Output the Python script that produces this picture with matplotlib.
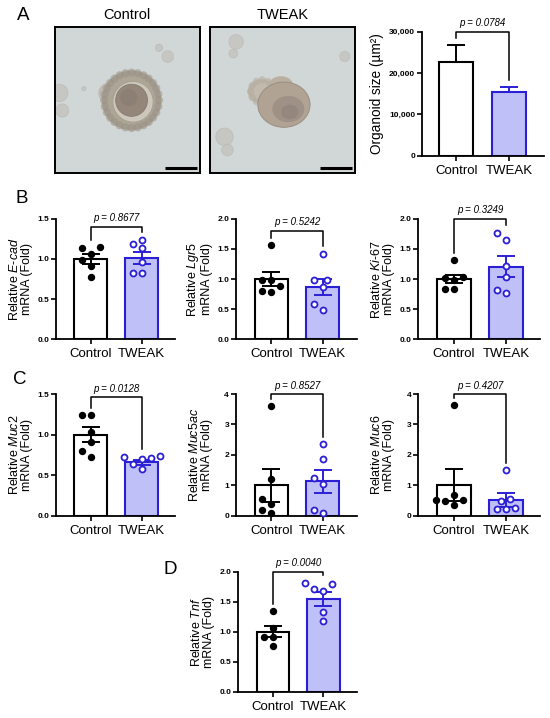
import numpy as np
import matplotlib
matplotlib.use('Agg')
import matplotlib.pyplot as plt
from matplotlib.patches import Circle, Ellipse

plt.rcParams['font.family'] = ['Liberation Sans', 'DejaVu Sans']
plt.rcParams['mathtext.fontset'] = 'custom'
plt.rcParams['mathtext.rm'] = 'Liberation Sans'
plt.rcParams['mathtext.it'] = 'Liberation Sans:italic'
plt.rcParams['mathtext.bf'] = 'Liberation Sans:bold'

groups = ['Control', 'TWEAK']

# A: organoid size (mean, SEM)
size_mean = [22740, 15340]
size_sem = [4040, 1210]
size_p = '0.0784'

# B
ecad_ctrl = [1.15, 1.14, 1.06, 0.99, 0.91, 0.78]
ecad_tweak = [1.24, 1.18, 1.13, 0.96, 0.83, 0.83]
ecad_mean = [1.00, 1.01]
ecad_sem = [0.06, 0.075]

lgr5_ctrl = [1.56, 0.99, 0.98, 0.88, 0.80, 0.79]
lgr5_tweak = [1.42, 0.99, 0.98, 0.86, 0.59, 0.49]
lgr5_mean = [1.00, 0.87]
lgr5_sem = [0.11, 0.13]

ki67_ctrl = [1.31, 1.03, 1.02, 0.99, 0.84, 0.83]
ki67_tweak = [1.77, 1.65, 1.21, 1.03, 0.81, 0.77]
ki67_mean = [1.00, 1.20]
ki67_sem = [0.06, 0.175]

# C
muc2_ctrl = [1.24, 1.24, 1.03, 0.91, 0.80, 0.72]
muc2_tweak = [0.73, 0.72, 0.71, 0.70, 0.63, 0.57]
muc2_mean = [1.00, 0.655]
muc2_sem = [0.095, 0.03]

muc5ac_ctrl = [3.60, 1.20, 0.53, 0.39, 0.17, 0.09]
muc5ac_tweak = [2.35, 1.85, 1.23, 1.05, 0.19, 0.08]
muc5ac_mean = [0.99, 1.12]
muc5ac_sem = [0.54, 0.37]

muc6_ctrl = [3.64, 0.67, 0.50, 0.50, 0.49, 0.34]
muc6_tweak = [1.50, 0.55, 0.47, 0.25, 0.22, 0.21]
muc6_mean = [1.00, 0.50]
muc6_sem = [0.53, 0.23]

# D
tnf_ctrl = [1.34, 1.07, 0.92, 0.92, 0.76]
tnf_tweak = [1.82, 1.80, 1.72, 1.68, 1.33, 1.18]
tnf_mean = [1.00, 1.55]
tnf_sem = [0.09, 0.115]

BLUE = '#2b1fd6'
LAV = '#c0c0f8'
W, H = 550, 718

fig = plt.figure(figsize=(W / 100, H / 100), dpi=100)


def px_axes(l, t, r, b):
    return fig.add_axes([l / W, 1 - b / H, (r - l) / W, (b - t) / H])


def swarm(vals, ypx, xpx, d=9.0):
    # simple beeswarm in pixel space
    placed = []
    offs = [0.0] * len(vals)
    cands = sorted([k * d / 2 for k in range(-12, 13)], key=lambda c: (abs(c), c))
    for i in sorted(range(len(vals)), key=lambda i: vals[i]):
        y = vals[i] * ypx
        for c in cands:
            if all((c - px) ** 2 + (y - py) ** 2 >= d * d * 0.95 for px, py in placed):
                placed.append((c, y))
                offs[i] = c / xpx
                break
    return offs


def gene_label(g):
    parts = ['$\\mathit{%s}$' % s for s in g.split('-')]
    return 'Relative ' + '-'.join(parts) + '\nmRNA (Fold)'


def bar_panel(ax, mean, sem, ymax, ticks, fmt, bracket_y, p,
              ctrl=None, tweak=None, upper_only=False, xlim=(-0.69, 1.66)):
    ax.set_xlim(*xlim)
    ax.set_ylim(0, ymax)
    fills = ['white', LAV]
    edges = ['black', BLUE]
    ax.bar([0, 1], mean, width=0.65, color=fills, edgecolor=edges,
           linewidth=1.5, zorder=2)
    bb = ax.get_position()
    ypx = bb.height * H / ymax
    xpx = bb.width * W / (xlim[1] - xlim[0])
    tops = []
    for i in range(2):
        lo = 0 if upper_only else sem[i]
        ax.errorbar(i, mean[i], yerr=[[lo], [sem[i]]], color=edges[i],
                    capsize=6.5, elinewidth=1.4, capthick=1.4, zorder=3)
        tops.append(mean[i] + sem[i])
    if ctrl is not None:
        xo = swarm(ctrl, ypx, xpx)
        ax.plot(np.array(xo), ctrl, 'o', ms=4.3, color='black', zorder=4,
                clip_on=False)
        xo = swarm(tweak, ypx, xpx)
        ax.plot(1 + np.array(xo), tweak, 'o', ms=4.3, mfc='white', mec=BLUE,
                mew=1.3, zorder=4, clip_on=False)
        tops = [max(tops[0], max(ctrl)), max(tops[1], max(tweak))]
    gap = 0.06 * ymax
    ax.plot([0, 0, 1, 1], [tops[0] + gap, bracket_y, bracket_y, tops[1] + gap],
            color='black', lw=1.1, clip_on=False, zorder=5)
    ax.annotate('p = ' + p, (0.5, bracket_y), xytext=(0, 2.5),
                textcoords='offset points', ha='center', va='bottom',
                style='italic', fontsize=7)
    for s in ['top', 'right']:
        ax.spines[s].set_visible(False)
    for s in ['left', 'bottom']:
        ax.spines[s].set_linewidth(1.3)
    ax.set_yticks(ticks, labels=[fmt(t) for t in ticks], fontweight='bold',
                  fontsize=6)
    ax.set_xticks([0, 1], labels=groups, fontsize=9.5)
    ax.tick_params(axis='y', length=3.5, width=1.2, pad=1.5)
    ax.tick_params(axis='x', length=3.5, width=1.2, pad=3)
    return ax


f1 = lambda t: '%.1f' % t
f0 = lambda t: '%d' % t
fc = lambda t: '{:,}'.format(int(t))


# ---- A: brightfield images (drawn as simple shapes) ----
def cell_rim(ax, cx, cy, r, n, size, color):
    for a in np.linspace(0, 2 * np.pi, n, endpoint=False):
        ax.add_patch(Circle((cx + r * np.cos(a), cy + r * np.sin(a)), size,
                            fc=color, ec='none', alpha=0.55))


def organoid_image(ax, kind):
    ax.set_xlim(0, 1)
    ax.set_ylim(0, 1)
    ax.set_xticks([])
    ax.set_yticks([])
    ax.set_facecolor((0.82, 0.84, 0.84))
    for s in ax.spines.values():
        s.set_linewidth(1.4)
    faint = (0.77, 0.77, 0.75)
    if kind == 'ctrl':
        for (cx, cy, r) in [(0.78, 0.80, 0.04), (0.72, 0.86, 0.025),
                            (0.03, 0.55, 0.06), (0.05, 0.43, 0.045),
                            (0.20, 0.58, 0.015)]:
            ax.add_patch(Circle((cx, cy), r, fc=faint, ec=(0.72, 0.72, 0.70),
                                lw=0.5, alpha=0.8))
        ax.add_patch(Circle((0.37, 0.55), 0.07, fc=(0.73, 0.71, 0.67),
                            ec='none', alpha=0.8))
        ax.add_patch(Circle((0.53, 0.50), 0.205, fc=(0.68, 0.65, 0.59),
                            ec='none'))
        cell_rim(ax, 0.53, 0.50, 0.19, 28, 0.028, (0.60, 0.57, 0.52))
        ax.add_patch(Circle((0.54, 0.49), 0.14, fc=(0.80, 0.78, 0.73),
                            ec=(0.66, 0.63, 0.58), lw=0.8))
        ax.add_patch(Circle((0.53, 0.50), 0.11, fc=(0.58, 0.53, 0.48),
                            ec=(0.52, 0.48, 0.44), lw=0.6))
        ax.add_patch(Circle((0.51, 0.52), 0.06, fc=(0.55, 0.50, 0.46),
                            ec='none'))
    else:
        for (cx, cy, r) in [(0.18, 0.90, 0.05), (0.16, 0.82, 0.03),
                            (0.93, 0.80, 0.035), (0.10, 0.25, 0.06),
                            (0.12, 0.16, 0.04)]:
            ax.add_patch(Circle((cx, cy), r, fc=faint, ec=(0.72, 0.72, 0.70),
                                lw=0.5, alpha=0.8))
        ax.add_patch(Ellipse((0.36, 0.56), 0.20, 0.17, fc=(0.76, 0.73, 0.68),
                             ec='none'))
        cell_rim(ax, 0.36, 0.56, 0.08, 12, 0.025, (0.70, 0.67, 0.62))
        ax.add_patch(Ellipse((0.49, 0.61), 0.16, 0.11, fc=(0.73, 0.69, 0.63),
                             ec='none'))
        ax.add_patch(Ellipse((0.51, 0.47), 0.36, 0.31, fc=(0.69, 0.64, 0.58),
                             ec=(0.60, 0.56, 0.51), lw=0.7))
        ax.add_patch(Ellipse((0.54, 0.44), 0.22, 0.18, fc=(0.62, 0.57, 0.52),
                             ec='none'))
        ax.add_patch(Ellipse((0.55, 0.42), 0.12, 0.10, fc=(0.58, 0.53, 0.49),
                             ec='none'))
    ax.plot([0.76, 0.98], [0.035, 0.035], color='black', lw=2.2,
            solid_capstyle='butt')


ax_i1 = px_axes(55, 27.3, 199.5, 173.3)
organoid_image(ax_i1, 'ctrl')
ax_i2 = px_axes(210, 27.3, 355, 173.3)
organoid_image(ax_i2, 'tweak')
fig.text(127 / W, 1 - 15 / H, 'Control', ha='center', va='center', fontsize=10.5)
fig.text(282.5 / W, 1 - 15 / H, 'TWEAK', ha='center', va='center', fontsize=10.5)

axA = px_axes(422, 31.7, 544, 155.7)
bar_panel(axA, size_mean, size_sem, 30000, [0, 10000, 20000, 30000], fc,
          30000, size_p, upper_only=True, xlim=(-0.647, 1.657))
axA.set_ylabel('Organoid size (µm²)', fontsize=9.8)
axA.yaxis.set_label_coords(-38 / 122, 0.5)

# ---- B, C, D ----
cols = [(56, 175), (236, 356.7), (418.3, 540)]
rowB = (218.7, 339.3)
rowC = (394, 515.5)

specs_B = [
    (ecad_mean, ecad_sem, ecad_ctrl, ecad_tweak, 1.5, 'E-cad', '0.8677', 1.40),
    (lgr5_mean, lgr5_sem, lgr5_ctrl, lgr5_tweak, 2.0, 'Lgr5', '0.5242', 1.80),
    (ki67_mean, ki67_sem, ki67_ctrl, ki67_tweak, 2.0, 'Ki-67', '0.3249', 2.00),
]
specs_C = [
    (muc2_mean, muc2_sem, muc2_ctrl, muc2_tweak, 1.5, 'Muc2', '0.0128', 1.46),
    (muc5ac_mean, muc5ac_sem, muc5ac_ctrl, muc5ac_tweak, 4.0, 'Muc5ac', '0.8527', 4.0),
    (muc6_mean, muc6_sem, muc6_ctrl, muc6_tweak, 4.0, 'Muc6', '0.4207', 4.0),
]


def small_panel(l, r, t, b, spec):
    mean, sem, ctrl, tweak, ymax, gene, p, by = spec
    ax = px_axes(l, t, r, b)
    if ymax == 4.0:
        ticks, fmt = [0, 1, 2, 3, 4], f0
    else:
        ticks, fmt = list(np.arange(0, ymax + 0.01, 0.5)), f1
    bar_panel(ax, mean, sem, ymax, ticks, fmt, by, p, ctrl=ctrl, tweak=tweak)
    ax.set_ylabel(gene_label(gene), fontsize=9, linespacing=1.0)
    ax.yaxis.set_label_coords(-23 / (r - l), 0.5)
    return ax


for (l, r), spec in zip(cols, specs_B):
    small_panel(l, r, rowB[0], rowB[1], spec)
for (l, r), spec in zip(cols, specs_C):
    small_panel(l, r, rowC[0], rowC[1], spec)

small_panel(238.3, 356.7, 571.7, 691.7,
            (tnf_mean, tnf_sem, tnf_ctrl, tnf_tweak, 2.0, 'Tnf', '0.0040', 2.0))

for lbl, x, y in [('A', 22.8, 15), ('B', 21.7, 198.3), ('C', 20, 380), ('D', 170, 570)]:
    fig.text(x / W, 1 - y / H, lbl, ha='center', va='center', fontsize=13.5)

fig.savefig('out.png', dpi=100)
